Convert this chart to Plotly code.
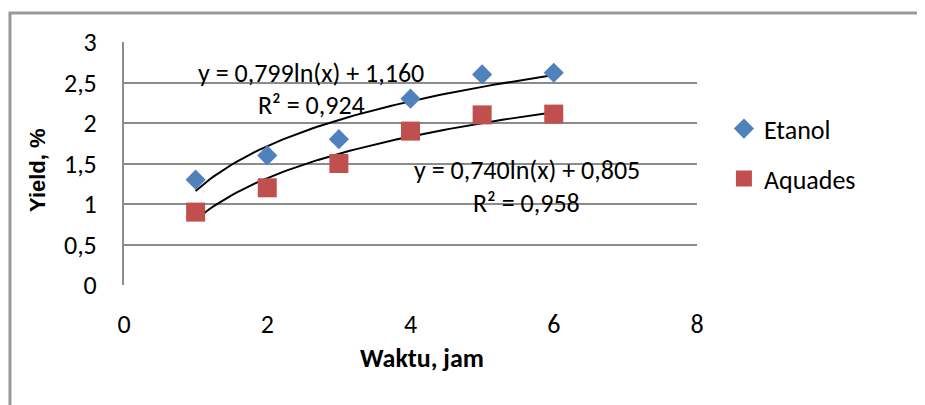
import numpy as np
import plotly.graph_objects as go

waktu = [1, 2, 3, 4, 5, 6]
etanol = [1.30, 1.60, 1.80, 2.30, 2.60, 2.62]
aquades = [0.90, 1.20, 1.50, 1.90, 2.10, 2.11]
x_ticks = [0, 2, 4, 6, 8]
y_ticks = [0, 0.5, 1, 1.5, 2, 2.5, 3]
y_tick_labels = ["0", "0,5", "1", "1,5", "2", "2,5", "3"]
eq_etanol = ["y = 0,799ln(x) + 1,160", "R² = 0,924"]
eq_aquades = ["y = 0,740ln(x) + 0,805", "R² = 0,958"]

FONT = "Carlito, 'Liberation Sans Narrow', 'Open Sans', sans-serif"
GRID = "#8C8C8C"

def log_fit(x, y):
    a, b = np.polyfit(np.log(x), y, 1)
    xs = np.linspace(min(x), max(x), 80)
    return xs, a * np.log(xs) + b

fig = go.Figure()
for ys in (etanol, aquades):
    xs, yf = log_fit(waktu, ys)
    fig.add_trace(go.Scatter(x=xs, y=yf, mode="lines", line=dict(color="black", width=2),
                             showlegend=False, hoverinfo="skip"))
fig.add_trace(go.Scatter(x=waktu, y=etanol, mode="markers", name="Etanol", legendgroup="e",
                         marker=dict(symbol="diamond", size=15.5, color="#4F81BD")))
fig.add_trace(go.Scatter(x=waktu, y=aquades, mode="markers", name="Aquades", legendgroup="a",
                         marker=dict(symbol="square", size=19, color="#C0504D")))

# chart area border (extends beyond the picture on right and bottom)
fig.add_shape(type="rect", xref="paper", yref="paper", x0=-0.199, x1=1.6, y0=-0.8, y1=1.119,
              line=dict(color="#999999", width=3), layer="below")

ann_font = dict(size=26, color="black", family=FONT)
fig.add_annotation(x=2.61, y=2.62, text=eq_etanol[0], showarrow=False, font=ann_font)
fig.add_annotation(x=2.62, y=2.22, text=eq_etanol[1], showarrow=False, font=ann_font)
fig.add_annotation(x=5.63, y=1.42, text=eq_aquades[0], showarrow=False, font=ann_font)
fig.add_annotation(x=5.62, y=1.01, text=eq_aquades[1], showarrow=False, font=ann_font)

# axis titles
fig.add_annotation(xref="paper", yref="paper", x=0.52, y=-0.30, xanchor="center", yanchor="middle",
                   text="<b>Waktu, jam</b>", showarrow=False,
                   font=dict(size=26, family=FONT, color="black"))
fig.add_annotation(xref="paper", yref="paper", x=-0.152, y=0.473, xanchor="center", yanchor="middle",
                   text="<b>Yield, %</b>", textangle=-90, showarrow=False,
                   font=dict(size=22, family="'Liberation Sans', Arial, sans-serif", color="black"))

fig.update_layout(
    width=925, height=405,
    margin=dict(l=116, r=236, t=34, b=128),
    paper_bgcolor="white", plot_bgcolor="white",
    font=dict(family=FONT, size=26, color="black"),
    showlegend=True,
    legend=dict(x=1.047, y=0.740, xanchor="left", yanchor="top", font=dict(size=26, family=FONT),
                tracegroupgap=13, traceorder="grouped", itemsizing="trace",
                bgcolor="rgba(0,0,0,0)"),
    xaxis=dict(range=[0, 8], tickvals=x_ticks, showgrid=False, zeroline=False,
               showline=False, ticks="", ticklabelstandoff=21,
               tickfont=dict(size=26, family=FONT)),
    yaxis=dict(range=[0, 3], tickvals=y_ticks, ticktext=y_tick_labels, showgrid=True,
               gridcolor=GRID, gridwidth=2, zeroline=False, showline=True,
               linecolor=GRID, linewidth=2, ticks="", ticklabelstandoff=20,
               tickfont=dict(size=26, family=FONT)),
)
fig.write_html("out.html")
